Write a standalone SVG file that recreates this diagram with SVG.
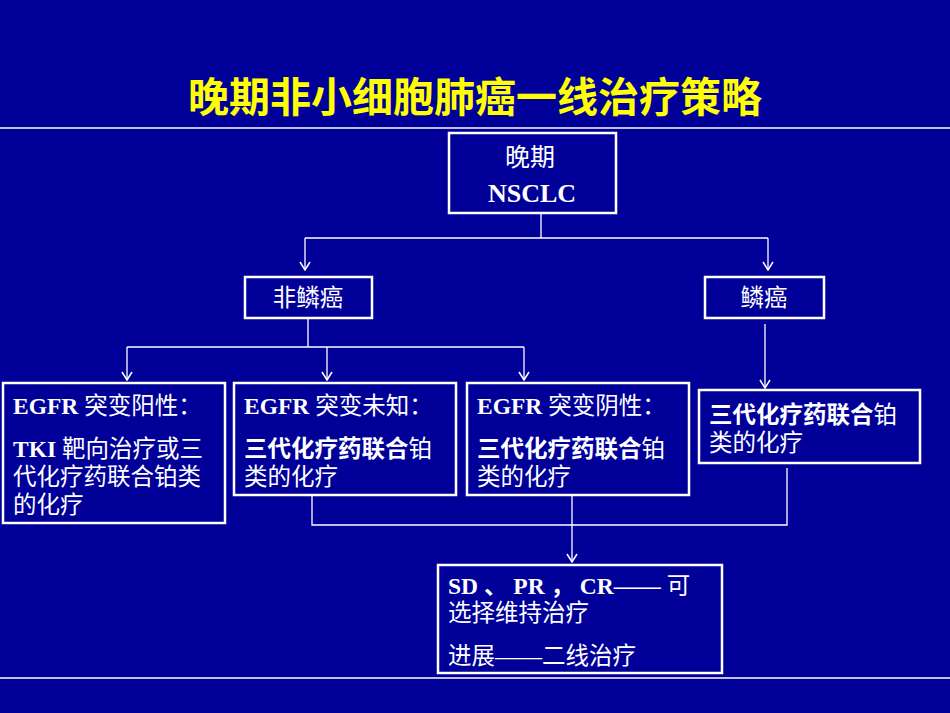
<svg xmlns="http://www.w3.org/2000/svg" width="950" height="713" viewBox="0 0 950 713">
<defs>
<style>
.b{fill:none;stroke:#fff;stroke-width:2.5}
.c{fill:none;stroke:#fff;stroke-width:1.3}
text{fill:#fff;font-family:"Liberation Serif","Noto Sans CJK SC",serif;font-size:23.5px}
.e{font-weight:bold}
</style>
<marker id="a" markerWidth="10" markerHeight="12" refX="9" refY="6" orient="auto" markerUnits="userSpaceOnUse" viewBox="0 0 10 12"><path d="M1,1 L9,6 L1,11" fill="none" stroke="#fff" stroke-width="1.5"/></marker>
</defs>
<rect width="950" height="713" fill="#000099"/>
<text x="475" y="112" text-anchor="middle" style="fill:#ffff00;font-size:41px;font-weight:bold;font-family:'Noto Sans CJK SC',sans-serif">晚期非小细胞肺癌一线治疗策略</text>
<line x1="0" y1="128" x2="950" y2="128" stroke="#fff" stroke-width="1.5"/>
<line x1="0" y1="678" x2="950" y2="678" stroke="#fff" stroke-width="1.5"/>
<g id="connectors">
<path class="c" d="M541,213 V238 M305,238 H768"/>
<path class="c" d="M305,238 V270" marker-end="url(#a)"/>
<path class="c" d="M768,238 V270" marker-end="url(#a)"/>
<path class="c" d="M308,318 V347 M127,347 H524"/>
<path class="c" d="M127,347 V380" marker-end="url(#a)"/>
<path class="c" d="M327,347 V380" marker-end="url(#a)"/>
<path class="c" d="M524,347 V380" marker-end="url(#a)"/>
<path class="c" d="M765,324 V388" marker-end="url(#a)"/>
<path class="c" d="M312,495 V525 H787 V468"/>
<path class="c" d="M572,495 V562" marker-end="url(#a)"/>
</g>
<g id="n0"><rect class="b" x="449" y="133" width="167" height="80"/><text x="530" y="166" text-anchor="middle" style="font-size:25px">晚期</text><text x="532" y="202" text-anchor="middle" class="e" style="font-size:26px">NSCLC</text></g>
<g id="n1"><rect class="b" x="245" y="277" width="127" height="41"/><text x="308" y="306" text-anchor="middle">非鳞癌</text></g>
<g id="n2"><rect class="b" x="705" y="277" width="119" height="41"/><text x="764" y="306" text-anchor="middle">鳞癌</text></g>
<g id="n3"><rect class="b" x="3" y="383" width="222" height="140"/><text x="13" y="414"><tspan class="e">EGFR</tspan> 突变阳性：</text><text x="13" y="457"><tspan class="e">TKI</tspan> 靶向治疗或三</text><text x="13" y="485">代化疗药联合铂类</text><text x="13" y="513">的化疗</text></g>
<g id="n4"><rect class="b" x="234" y="383" width="222" height="112"/><text x="244" y="414"><tspan class="e">EGFR</tspan> 突变未知：</text><text x="244" y="457"><tspan class="e">三代化疗药联合</tspan>铂</text><text x="244" y="485">类的化疗</text></g>
<g id="n5"><rect class="b" x="467" y="383" width="222" height="112"/><text x="477" y="414"><tspan class="e">EGFR</tspan> 突变阴性：</text><text x="477" y="457"><tspan class="e">三代化疗药联合</tspan>铂</text><text x="477" y="485">类的化疗</text></g>
<g id="n6"><rect class="b" x="699" y="390" width="221" height="73"/><text x="709" y="423"><tspan class="e">三代化疗药联合</tspan>铂</text><text x="709" y="451">类的化疗</text></g>
<g id="n7"><rect class="b" x="438" y="565" width="284" height="108"/><text x="448" y="594"><tspan class="e">SD 、 PR ， CR——</tspan> 可</text><text x="448" y="621">选择维持治疗</text><text x="448" y="664">进展——二线治疗</text></g>
</svg>
